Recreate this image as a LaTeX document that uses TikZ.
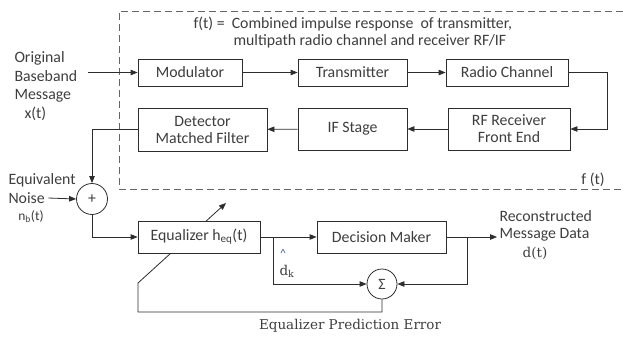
\documentclass[tikz,border=0pt]{standalone}
\usepackage{fontspec}
\setmainfont{Carlito}
\newfontfamily\cbserif{DejaVu Serif}
\usetikzlibrary{arrows.meta, backgrounds}
\definecolor{ink}{RGB}{62,62,62}
\definecolor{wirec}{RGB}{45,45,45}
\definecolor{capc}{RGB}{70,100,160}

\begin{document}
\begin{tikzpicture}[x=1pt, y=-1pt,
        font=\fontsize{15.8}{17}\selectfont, text=ink,
        blk/.style={draw=wirec, line width=0.8pt, fill=white, align=center, inner sep=0pt},
        sumnode/.style={circle, draw=wirec, line width=0.8pt, fill=white, minimum size=31pt, inner sep=0pt},
        wire/.style={draw=wirec, line width=0.8pt},
        arr/.style={wire, -{Triangle[length=7pt, width=5.5pt]}},
        dashbox/.style={draw=gray!80!black, line width=0.8pt, dash pattern=on 7pt off 4pt},
        serif/.style={font=\cbserif\fontsize{13.5}{16}\selectfont}]

        \useasboundingbox (0,0) rectangle (623,337);

        \coordinate (xin) at (88,72.5);
        \coordinate (turn) at (607,72.5);
        \coordinate (b1) at (273,237);
        \coordinate (b2) at (467,237);
        \coordinate (dout) at (497,237);
        \coordinate (fbl) at (138,312);
        \coordinate (fbc) at (138,283);
        \coordinate (adapt) at (226,203);

        \draw[dashbox] (623,11) -- (119,11) -- (119,189) -- (623,189);

        \node[anchor=north west, align=left] (ftxt) at (190,13)
            {f(t) =\ \ Combined impulse response\ \ of transmitter,\\
             \hspace*{40pt}multipath radio channel and receiver RF/IF};
        \node[] (fout) at (593,180) {f (t)};

        \node[blk, minimum width=104pt, minimum height=27pt] (mod) at (190,72.5) {Modulator};
        \node[blk, minimum width=109pt, minimum height=27pt] (tx) at (352.5,72.5) {Transmitter};
        \node[blk, minimum width=122pt, minimum height=27pt] (chan) at (507,72.5) {Radio Channel};
        \node[blk, minimum width=122pt, minimum height=42pt] (rf) at (509,129) {RF Receiver\\Front End};
        \node[blk, minimum width=109pt, minimum height=42pt] (ifs) at (352.5,129) {IF Stage};
        \node[blk, minimum width=129pt, minimum height=43pt] (det) at (202.5,129.5) {Detector\\Matched Filter};

        \node[sumnode] (sum) at (92,199) {+};
        \node[blk, minimum width=122pt, minimum height=32pt] (eq) at (199,237) {Equalizer h\textsubscript{eq}(t)};
        \node[blk, minimum width=129pt, minimum height=32pt] (dec) at (381.5,237) {Decision Maker};
        \node[sumnode, minimum size=30pt] (sig) at (382,284) {Σ};

        \node[anchor=west, align=left, font=\fontsize{15.8}{18.7}\selectfont] (orig) at (11,86)
            {Original\\Baseband\\Message\\\hspace*{10pt}x(t)};
        \node[anchor=west] (eqv) at (5,180) {Equivalent};
        \node[anchor=west] (noise) at (5,198) {Noise};
        \node[font=\fontsize{13.5}{16}\selectfont] (nb) at (31,217) {n\textsubscript{b}(t)};
        \node[anchor=west, align=left] (rec) at (496,226) {Reconstructed\\Message Data};
        \node[serif] (dt) at (535,253) {d(t)};
        \node[text=capc, font=\fontsize{12}{14}\selectfont] (hat) at (283,253) {\textasciicircum};
        \node[serif] (dk) at (287,271) {d\textsubscript{k}};
        \node[serif] (perr) at (350,326) {Equalizer Prediction Error};

        \draw[arr] (xin) -- (mod.west);
        \draw[arr] (mod) -- (tx);
        \draw[arr] (tx) -- (chan);
        \draw[arr] (chan.east) -- (turn) |- (rf.east);
        \draw[arr] (rf) -- (ifs);
        \draw[arr] (ifs) -- (det);
        \draw[arr] (det.west) -| (sum.north);
        \draw[arr] (noise.east) -- (sum.west);
        \draw[arr] (sum.south) |- (eq.west);
        \draw[arr] (eq) -- (dec);
        \draw[arr] (b1) |- (sig.west);
        \draw[arr] (dec.east) -- (dout);
        \draw[arr] (b2) |- (sig.east);
        \begin{scope}[on background layer]
            \draw[arr] (sig.south) |- (fbl) -- (fbc) -- (adapt);
        \end{scope}

    \end{tikzpicture}
\end{document}
